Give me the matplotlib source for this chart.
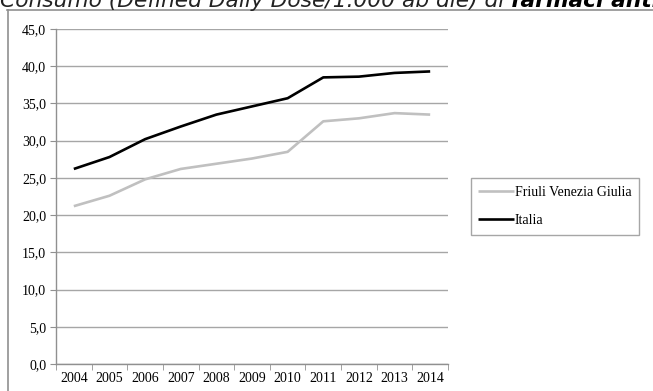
import matplotlib
matplotlib.use("Agg")
import matplotlib.pyplot as plt
from matplotlib.lines import Line2D

years = ["2004", "2005", "2006", "2007", "2008", "2009", "2010", "2011", "2012", "2013", "2014"]
friuli = [21.2, 22.6, 24.8, 26.2, 26.9, 27.6, 28.5, 32.6, 33.0, 33.7, 33.5]
italia = [26.2, 27.8, 30.2, 31.9, 33.5, 34.6, 35.7, 38.5, 38.6, 39.1, 39.3]
yticks = [0, 5, 10, 15, 20, 25, 30, 35, 40, 45]
ytick_labels = ["0,0", "5,0", "10,0", "15,0", "20,0", "25,0", "30,0", "35,0", "40,0", "45,0"]
series_names = ["Friuli Venezia Giulia", "Italia"]

W, H = 653, 391
fig = plt.figure(figsize=(W / 100, H / 100), dpi=100)
fig.patch.set_facecolor("white")

# outer frame lines (top and left)
fig.add_artist(Line2D([7 / W, 1], [1 - 9.5 / H, 1 - 9.5 / H], color="#909090", lw=1.2))
fig.add_artist(Line2D([7.5 / W, 7.5 / W], [0, 1 - 9.5 / H], color="#909090", lw=1.2))

# title (cut off at the top and right, as in the reference)
fig.text(0.0, 1 - 7 / H, "Consumo (Defined Daily Dose/1.000 ab die) di ", fontsize=15.7,
         style="italic", family="DejaVu Sans", va="baseline", ha="left", color="#222222")
t1 = fig.texts[-1]
fig.canvas.draw()
bb = t1.get_window_extent()
fig.text(bb.x1 / W, 1 - 7 / H, "farmaci antibiotici", fontsize=15.7, style="italic",
         weight="bold", family="DejaVu Sans", va="baseline", ha="left", color="black")

ax = fig.add_axes([56 / W, (H - 364) / H, (448 - 56) / W, (364 - 29) / H])
x = list(range(len(years)))
ax.plot(x, friuli, color="#c0c0c0", lw=1.9, label=series_names[0], solid_capstyle="butt")
ax.plot(x, italia, color="black", lw=1.9, label=series_names[1], solid_capstyle="butt")

ax.set_xlim(-0.5, len(years) - 0.5)
ax.set_ylim(0, 45)
ax.set_yticks(yticks)
ax.set_yticklabels(ytick_labels, family="Liberation Serif", fontsize=10)
ax.set_xticks(x)
ax.set_xticklabels(years, family="Liberation Serif", fontsize=10)
ax.set_xticks([i - 0.5 for i in range(len(years) + 1)], minor=True)
ax.tick_params(axis="x", which="major", length=0, pad=6)
ax.tick_params(axis="x", which="minor", length=4, color="#909090", direction="out")
ax.tick_params(axis="y", length=4, color="#909090", direction="out", pad=3)
ax.grid(axis="y", color="#a6a6a6", lw=1.0)
ax.set_axisbelow(True)
for s in ["top", "right"]:
    ax.spines[s].set_visible(False)
for s in ["left", "bottom"]:
    ax.spines[s].set_color("#909090")
    ax.spines[s].set_linewidth(1.0)

leg = ax.legend(loc="upper left", bbox_to_anchor=(470.5 / W, 1 - 178 / H),
                bbox_transform=fig.transFigure, prop={"family": "Liberation Serif", "size": 10},
                frameon=True, fancybox=False, handlelength=2.6, handletextpad=0.05,
                borderpad=0.55, labelspacing=1.1, borderaxespad=0)
leg.get_frame().set_edgecolor("#909090")
leg.get_frame().set_linewidth(1.0)

fig.savefig("out.png", dpi=100)
